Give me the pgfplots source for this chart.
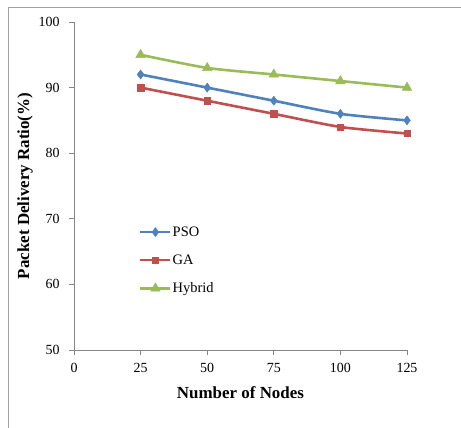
\documentclass[border=0pt]{standalone}
\usepackage{pgfplots}
\pgfplotsset{compat=1.18}
\usepackage{fontspec}
\setmainfont{Liberation Serif}
\definecolor{psoblue}{HTML}{4F81BD}
\definecolor{gared}{HTML}{C0504D}
\definecolor{hybgreen}{HTML}{9BBB59}
\definecolor{axgray}{HTML}{868686}
\definecolor{framegray}{HTML}{A0A0A0}
\begin{document}
\begin{tikzpicture}
\begin{axis}[
  at={(0,0)}, anchor=south west,
  scale only axis, width=333bp, height=328bp,
  xmin=0, xmax=125, ymin=50, ymax=100,
  xtick={0,25,50,75,100,125},
  ytick={50,60,70,80,90,100},
  axis lines*=left,
  axis line style={draw=axgray, line width=0.8bp},
  tick style={draw=axgray, line width=0.8bp},
  tick align=outside,
  major tick length=5bp,
  /pgf/number format/assume math mode=true,
  tick label style={font=\fontsize{14}{16}\selectfont},
  xticklabel style={yshift=-5bp},
  yticklabel style={xshift=-6bp},
  label style={font=\fontsize{17}{20}\selectfont\bfseries},
  xlabel style={yshift=-7bp},
  ylabel style={yshift=-1bp},
  xlabel={Number of Nodes},
  ylabel={Packet Delivery Ratio(\%)},
  every axis plot/.append style={line width=2.6bp, smooth, tension=0.4},
  legend style={at={(0.195,0.38)}, anchor=north west, draw=none, fill=none,
    inner sep=0pt, row sep=15bp,
    font=\fontsize{14.5}{16}\selectfont,
    nodes={inner xsep=1bp, inner ysep=1bp}},
  legend cell align=left,
  legend image code/.code={\draw[mark repeat=2,mark phase=2,smooth=false] plot coordinates {(0bp,0bp) (15bp,0bp) (30bp,0bp)};},
]
\addplot[color=psoblue, mark=diamond*, mark size=4.5bp, mark options={solid, line width=0.5bp}]
  coordinates {(25,92) (50,90) (75,88) (100,86) (125,85)};
\addlegendentry{PSO}
\addplot[color=gared, mark=square*, mark size=3.2bp, mark options={solid, line width=0.5bp}]
  coordinates {(25,90) (50,88) (75,86) (100,84) (125,83)};
\addlegendentry{GA}
\addplot[color=hybgreen, mark=triangle*, mark size=5.5bp, mark options={solid, line width=0.5bp}]
  coordinates {(25,95) (50,93) (75,92) (100,91) (125,90)};
\addlegendentry{Hybrid}
\end{axis}
\draw[framegray, line width=0.8bp] (-66bp,-90bp) -- (-66bp,343bp) -- (400bp,343bp);
\pgfresetboundingbox
\path[use as bounding box] (-74bp,-78bp) rectangle (387bp,350bp);
\end{tikzpicture}
\end{document}
